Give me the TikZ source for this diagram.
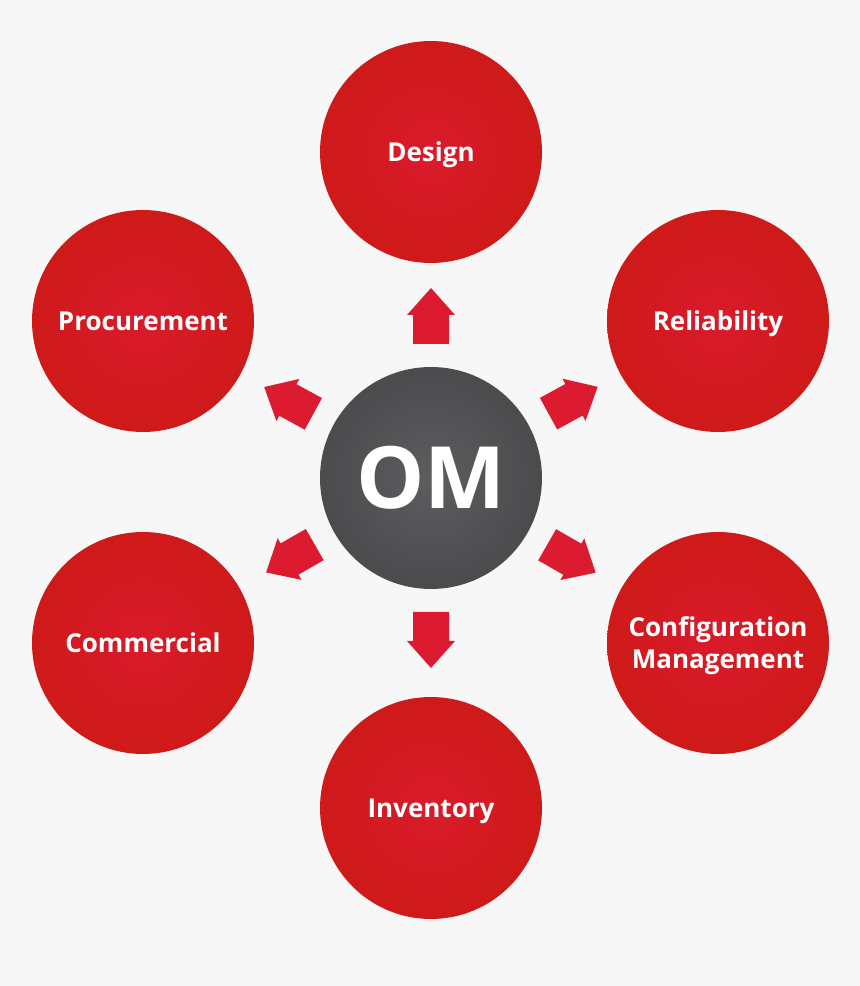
\documentclass[tikz,border=0pt]{standalone}
\usepackage{fontspec}
\setmainfont{Open Sans}
\usetikzlibrary{calc}
\definecolor{bg}{HTML}{F7F7F7}
\definecolor{redin}{HTML}{D91A2B}
\definecolor{redout}{HTML}{C51B08}
\definecolor{grayin}{HTML}{5C5D5F}
\definecolor{grayout}{HTML}{3A3A3B}
\definecolor{arrowred}{HTML}{DC1A30}
\pgfdeclareradialshading{redball}{\pgfpoint{0bp}{0bp}}{color(0bp)=(redin); color(50bp)=(redout)}
\pgfdeclareradialshading{grayball}{\pgfpoint{0bp}{0bp}}{color(0bp)=(grayin); color(50bp)=(grayout)}
\tikzset{
  topic/.style={circle, minimum size=222pt, inner sep=0pt, shade, shading=redball,
    text=white, font=\fontsize{26}{32}\selectfont\bfseries, align=center},
  hub/.style={circle, minimum size=222pt, inner sep=0pt, shade, shading=grayball,
    text=white, font=\fontsize{86}{90}\selectfont\bfseries},
  bigarrow/.style={fill=arrowred, draw=none}
}
\begin{document}
\begin{tikzpicture}[x=1pt,y=1pt]
\useasboundingbox (0,0) rectangle (860,986);
\fill[bg] (0,0) rectangle (860,986);
\node[hub] (om) at (431,508) {OM};
\node[topic, text depth=0pt] (design) at (431,834) {Design};
\node[topic, text depth=0pt] (rel) at (718,665) {Reliability};
\node[topic, text depth=0pt] (proc) at (143,665) {Procurement};
\node[topic, text depth=0pt] (comm) at (143,343) {Commercial};
\node[topic] (conf) at (718,343) {\raisebox{-2.5pt}[\height][\depth]{\parbox{200pt}{\centering Configuration\\Management}}};
\node[topic, text depth=0pt] (inv) at (431,178) {Inventory};
\foreach \t in {design,rel,proc,comm,conf,inv}{
  \coordinate (b) at ($(om.center)!134pt!(\t.center)$);
  \coordinate (h) at ($(om.center)!163pt!(\t.center)$);
  \coordinate (tp) at ($(om.center)!190pt!(\t.center)$);
  \fill[bigarrow] ($(b)!18pt!90:(tp)$) -- ($(h)!18pt!90:(tp)$) -- ($(h)!24pt!90:(tp)$)
    -- (tp) -- ($(h)!24pt!-90:(tp)$) -- ($(h)!18pt!-90:(tp)$) -- ($(b)!18pt!-90:(tp)$) -- cycle;
}
\end{tikzpicture}
\end{document}
